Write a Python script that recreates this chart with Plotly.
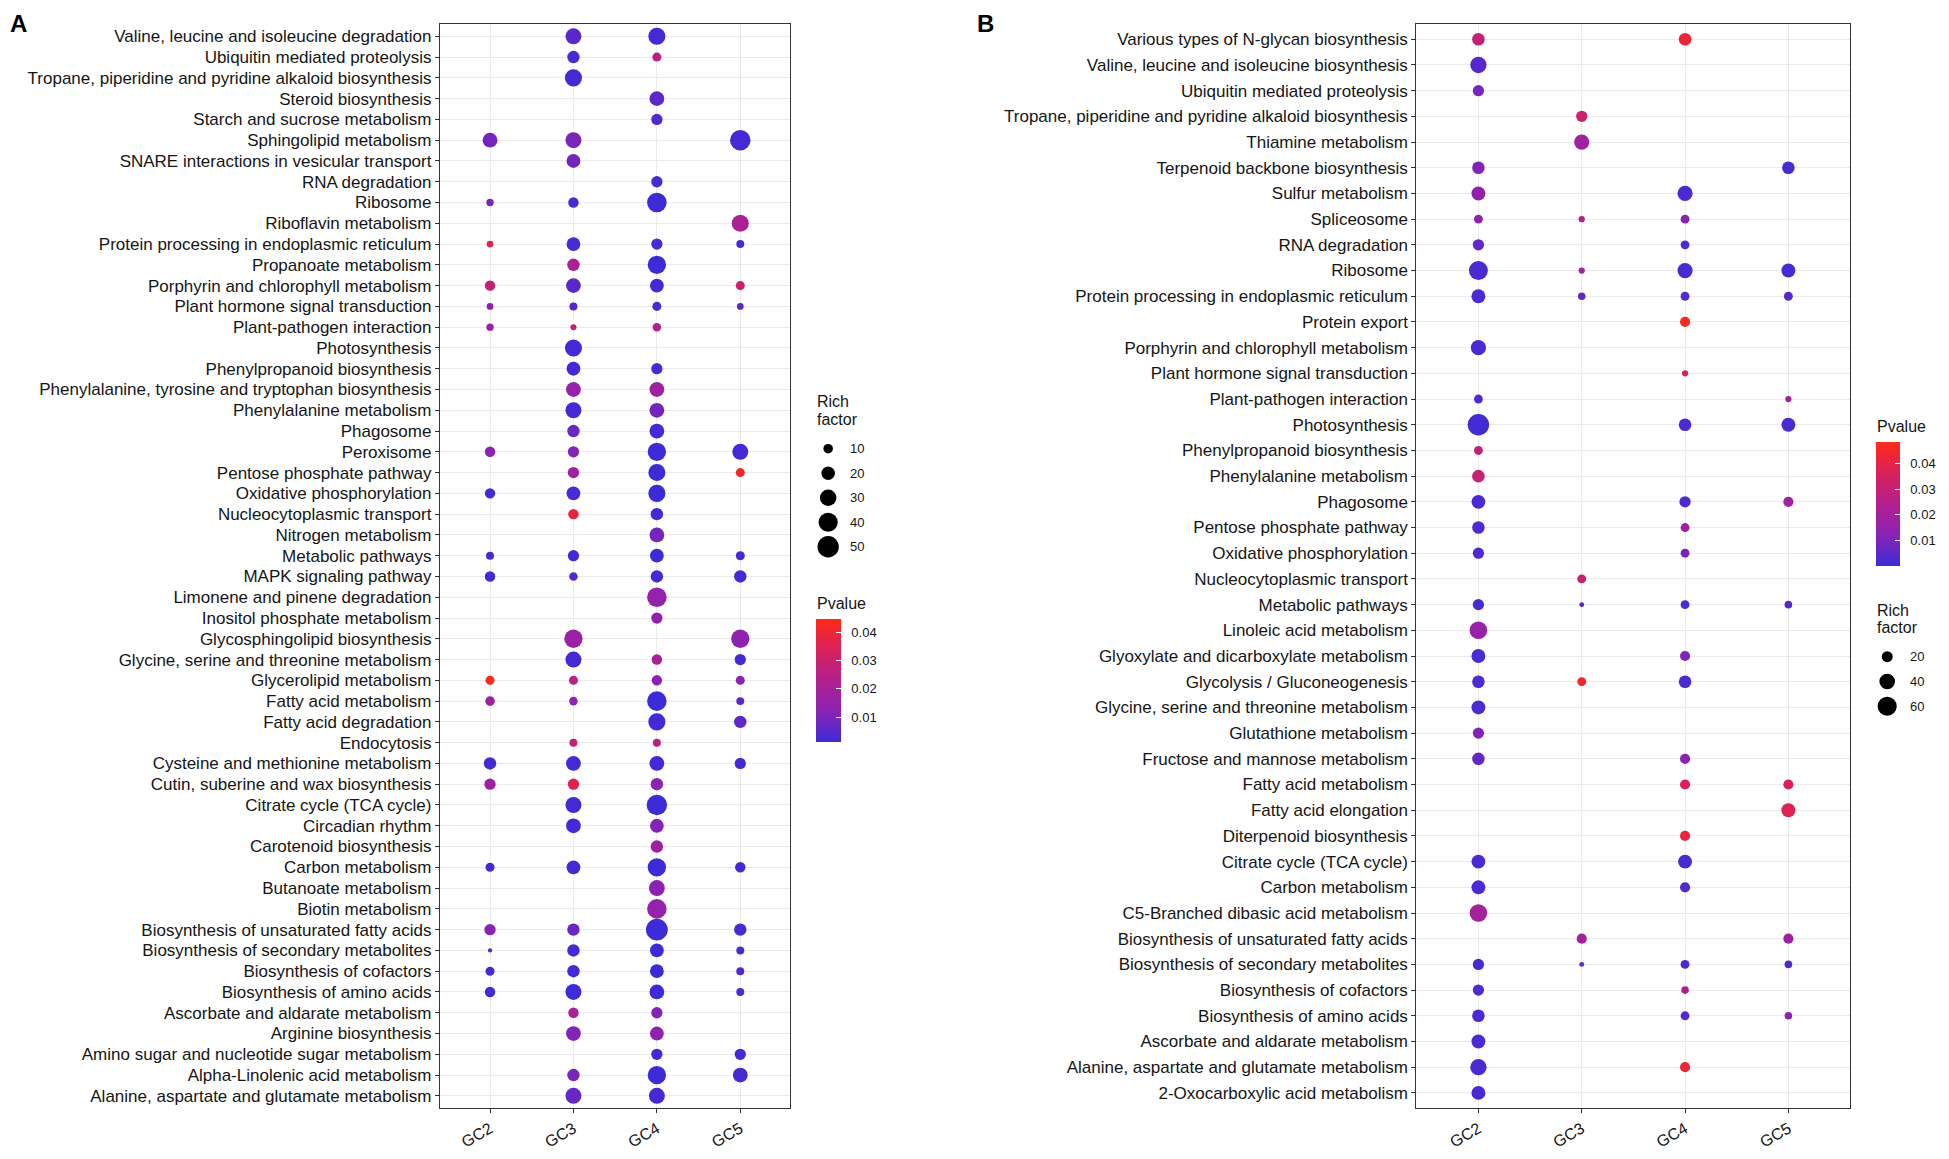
import plotly.graph_objects as go

# The page body adds an 8 px margin, so the figure is drawn 16 px smaller and
# every reference pixel position is shifted by that margin.
PAGE_W, PAGE_H = 1949, 1159
BODY_MARGIN = 8
W, H = PAGE_W - 2 * BODY_MARGIN, PAGE_H - 2 * BODY_MARGIN
FONT = "Liberation Sans, Arial, sans-serif"
GROUPS = ["GC2", "GC3", "GC4", "GC5"]

# ---------------- Panel A ----------------
A_categories = [
    "Valine, leucine and isoleucine degradation", "Ubiquitin mediated proteolysis",
    "Tropane, piperidine and pyridine alkaloid biosynthesis", "Steroid biosynthesis",
    "Starch and sucrose metabolism", "Sphingolipid metabolism",
    "SNARE interactions in vesicular transport", "RNA degradation", "Ribosome",
    "Riboflavin metabolism", "Protein processing in endoplasmic reticulum",
    "Propanoate metabolism", "Porphyrin and chlorophyll metabolism",
    "Plant hormone signal transduction", "Plant-pathogen interaction", "Photosynthesis",
    "Phenylpropanoid biosynthesis", "Phenylalanine, tyrosine and tryptophan biosynthesis",
    "Phenylalanine metabolism", "Phagosome", "Peroxisome", "Pentose phosphate pathway",
    "Oxidative phosphorylation", "Nucleocytoplasmic transport", "Nitrogen metabolism",
    "Metabolic pathways", "MAPK signaling pathway", "Limonene and pinene degradation",
    "Inositol phosphate metabolism", "Glycosphingolipid biosynthesis",
    "Glycine, serine and threonine metabolism", "Glycerolipid metabolism",
    "Fatty acid metabolism", "Fatty acid degradation", "Endocytosis",
    "Cysteine and methionine metabolism", "Cutin, suberine and wax biosynthesis",
    "Citrate cycle (TCA cycle)", "Circadian rhythm", "Carotenoid biosynthesis",
    "Carbon metabolism", "Butanoate metabolism", "Biotin metabolism",
    "Biosynthesis of unsaturated fatty acids", "Biosynthesis of secondary metabolites",
    "Biosynthesis of cofactors", "Biosynthesis of amino acids",
    "Ascorbate and aldarate metabolism", "Arginine biosynthesis",
    "Amino sugar and nucleotide sugar metabolism", "Alpha-Linolenic acid metabolism",
    "Alanine, aspartate and glutamate metabolism",
]

A_GC2_pathway = ["Sphingolipid metabolism", "Ribosome", "Protein processing in endoplasmic reticulum",
                 "Porphyrin and chlorophyll metabolism", "Plant hormone signal transduction",
                 "Plant-pathogen interaction", "Peroxisome", "Oxidative phosphorylation",
                 "Metabolic pathways", "MAPK signaling pathway", "Glycerolipid metabolism",
                 "Fatty acid metabolism", "Cysteine and methionine metabolism",
                 "Cutin, suberine and wax biosynthesis", "Carbon metabolism",
                 "Biosynthesis of unsaturated fatty acids", "Biosynthesis of secondary metabolites",
                 "Biosynthesis of cofactors", "Biosynthesis of amino acids"]
A_GC2_pvalue = [0.009, 0.009, 0.036, 0.028, 0.012, 0.017, 0.013, 0.002, 0.002, 0.002, 0.044,
                0.017, 0.002, 0.018, 0.002, 0.012, 0.004, 0.002, 0.002]
A_GC2_rich = [24, 6, 5, 12, 5, 6, 12, 12, 7, 12, 9, 10, 17, 14, 9, 14, 2, 9, 12]

A_GC3_pathway = ["Valine, leucine and isoleucine degradation", "Ubiquitin mediated proteolysis",
                 "Tropane, piperidine and pyridine alkaloid biosynthesis", "Sphingolipid metabolism",
                 "SNARE interactions in vesicular transport", "Ribosome",
                 "Protein processing in endoplasmic reticulum", "Propanoate metabolism",
                 "Porphyrin and chlorophyll metabolism", "Plant hormone signal transduction",
                 "Plant-pathogen interaction", "Photosynthesis", "Phenylpropanoid biosynthesis",
                 "Phenylalanine, tyrosine and tryptophan biosynthesis", "Phenylalanine metabolism",
                 "Phagosome", "Peroxisome", "Pentose phosphate pathway", "Oxidative phosphorylation",
                 "Nucleocytoplasmic transport", "Metabolic pathways", "MAPK signaling pathway",
                 "Glycosphingolipid biosynthesis", "Glycine, serine and threonine metabolism",
                 "Glycerolipid metabolism", "Fatty acid metabolism", "Endocytosis",
                 "Cysteine and methionine metabolism", "Cutin, suberine and wax biosynthesis",
                 "Citrate cycle (TCA cycle)", "Circadian rhythm", "Carbon metabolism",
                 "Biosynthesis of unsaturated fatty acids", "Biosynthesis of secondary metabolites",
                 "Biosynthesis of cofactors", "Biosynthesis of amino acids",
                 "Ascorbate and aldarate metabolism", "Arginine biosynthesis",
                 "Alpha-Linolenic acid metabolism", "Alanine, aspartate and glutamate metabolism"]
A_GC3_pvalue = [0.005, 0.003, 0.002, 0.010, 0.009, 0.003, 0.003, 0.021, 0.005, 0.005,
                0.028, 0.002, 0.002, 0.015, 0.002, 0.007, 0.011, 0.017, 0.003, 0.038,
                0.002, 0.004, 0.016, 0.002, 0.026, 0.013, 0.028, 0.002, 0.035, 0.002,
                0.002, 0.002, 0.008, 0.002, 0.002, 0.001, 0.020, 0.011, 0.010, 0.007]
A_GC3_rich = [28, 17, 32, 28, 21, 12, 21, 17, 24, 7, 4, 32, 21, 24, 28, 17, 14, 14, 21, 12,
              14, 8, 37, 28, 9, 8, 7, 24, 14, 28, 24, 21, 17, 17, 17, 28, 12, 24, 17, 28]

A_GC4_pathway = ["Valine, leucine and isoleucine degradation", "Ubiquitin mediated proteolysis",
                 "Steroid biosynthesis", "Starch and sucrose metabolism", "RNA degradation",
                 "Ribosome", "Protein processing in endoplasmic reticulum", "Propanoate metabolism",
                 "Porphyrin and chlorophyll metabolism", "Plant hormone signal transduction",
                 "Plant-pathogen interaction", "Phenylpropanoid biosynthesis",
                 "Phenylalanine, tyrosine and tryptophan biosynthesis", "Phenylalanine metabolism",
                 "Phagosome", "Peroxisome", "Pentose phosphate pathway", "Oxidative phosphorylation",
                 "Nucleocytoplasmic transport", "Nitrogen metabolism", "Metabolic pathways",
                 "MAPK signaling pathway", "Limonene and pinene degradation",
                 "Inositol phosphate metabolism", "Glycine, serine and threonine metabolism",
                 "Glycerolipid metabolism", "Fatty acid metabolism", "Fatty acid degradation",
                 "Endocytosis", "Cysteine and methionine metabolism",
                 "Cutin, suberine and wax biosynthesis", "Citrate cycle (TCA cycle)",
                 "Circadian rhythm", "Carotenoid biosynthesis", "Carbon metabolism",
                 "Butanoate metabolism", "Biotin metabolism",
                 "Biosynthesis of unsaturated fatty acids", "Biosynthesis of secondary metabolites",
                 "Biosynthesis of cofactors", "Biosynthesis of amino acids",
                 "Ascorbate and aldarate metabolism", "Arginine biosynthesis",
                 "Amino sugar and nucleotide sugar metabolism", "Alpha-Linolenic acid metabolism",
                 "Alanine, aspartate and glutamate metabolism"]
A_GC4_pvalue = [0.002, 0.025, 0.006, 0.004, 0.003, 0.001, 0.003, 0.001, 0.002, 0.003,
                0.022, 0.003, 0.018, 0.009, 0.002, 0.001, 0.001, 0.001, 0.002, 0.009,
                0.001, 0.002, 0.015, 0.014, 0.020, 0.012, 0.001, 0.002, 0.025, 0.002,
                0.012, 0.001, 0.011, 0.018, 0.001, 0.012, 0.015, 0.001, 0.001, 0.001,
                0.001, 0.011, 0.013, 0.002, 0.001, 0.002]
A_GC4_rich = [32, 9, 24, 14, 14, 42, 14, 37, 21, 9, 8, 14, 24, 24, 24, 37, 32, 32, 17, 24,
              21, 17, 42, 14, 12, 12, 42, 32, 7, 24, 17, 46, 21, 17, 37, 28, 42, 52, 21, 21,
              24, 14, 21, 14, 37, 28]

A_GC5_pathway = ["Sphingolipid metabolism", "Riboflavin metabolism",
                 "Protein processing in endoplasmic reticulum", "Porphyrin and chlorophyll metabolism",
                 "Plant hormone signal transduction", "Peroxisome", "Pentose phosphate pathway",
                 "Metabolic pathways", "MAPK signaling pathway", "Glycosphingolipid biosynthesis",
                 "Glycine, serine and threonine metabolism", "Glycerolipid metabolism",
                 "Fatty acid metabolism", "Fatty acid degradation",
                 "Cysteine and methionine metabolism", "Carbon metabolism",
                 "Biosynthesis of unsaturated fatty acids", "Biosynthesis of secondary metabolites",
                 "Biosynthesis of cofactors", "Biosynthesis of amino acids",
                 "Amino sugar and nucleotide sugar metabolism", "Alpha-Linolenic acid metabolism"]
A_GC5_pvalue = [0.002, 0.021, 0.003, 0.030, 0.005, 0.002, 0.041, 0.002, 0.002, 0.013, 0.002,
                0.012, 0.005, 0.006, 0.002, 0.002, 0.003, 0.003, 0.004, 0.003, 0.002, 0.002]
A_GC5_rich = [46, 32, 7, 9, 5, 28, 9, 9, 17, 37, 14, 9, 7, 17, 14, 12, 17, 7, 7, 7, 14, 24]

A_size_legend = [10, 20, 30, 40, 50]
A_p_range = [0.0012, 0.0446]

# ---------------- Panel B ----------------
B_categories = [
    "Various types of N-glycan biosynthesis", "Valine, leucine and isoleucine biosynthesis",
    "Ubiquitin mediated proteolysis", "Tropane, piperidine and pyridine alkaloid biosynthesis",
    "Thiamine metabolism", "Terpenoid backbone biosynthesis", "Sulfur metabolism",
    "Spliceosome", "RNA degradation", "Ribosome", "Protein processing in endoplasmic reticulum",
    "Protein export", "Porphyrin and chlorophyll metabolism", "Plant hormone signal transduction",
    "Plant-pathogen interaction", "Photosynthesis", "Phenylpropanoid biosynthesis",
    "Phenylalanine metabolism", "Phagosome", "Pentose phosphate pathway",
    "Oxidative phosphorylation", "Nucleocytoplasmic transport", "Metabolic pathways",
    "Linoleic acid metabolism", "Glyoxylate and dicarboxylate metabolism",
    "Glycolysis / Gluconeogenesis", "Glycine, serine and threonine metabolism",
    "Glutathione metabolism", "Fructose and mannose metabolism", "Fatty acid metabolism",
    "Fatty acid elongation", "Diterpenoid biosynthesis", "Citrate cycle (TCA cycle)",
    "Carbon metabolism", "C5-Branched dibasic acid metabolism",
    "Biosynthesis of unsaturated fatty acids", "Biosynthesis of secondary metabolites",
    "Biosynthesis of cofactors", "Biosynthesis of amino acids",
    "Ascorbate and aldarate metabolism", "Alanine, aspartate and glutamate metabolism",
    "2-Oxocarboxylic acid metabolism",
]

B_GC2_pathway = ["Various types of N-glycan biosynthesis", "Valine, leucine and isoleucine biosynthesis",
                 "Ubiquitin mediated proteolysis", "Terpenoid backbone biosynthesis",
                 "Sulfur metabolism", "Spliceosome", "RNA degradation", "Ribosome",
                 "Protein processing in endoplasmic reticulum", "Porphyrin and chlorophyll metabolism",
                 "Plant-pathogen interaction", "Photosynthesis", "Phenylpropanoid biosynthesis",
                 "Phenylalanine metabolism", "Phagosome", "Pentose phosphate pathway",
                 "Oxidative phosphorylation", "Metabolic pathways", "Linoleic acid metabolism",
                 "Glyoxylate and dicarboxylate metabolism", "Glycolysis / Gluconeogenesis",
                 "Glycine, serine and threonine metabolism", "Glutathione metabolism",
                 "Fructose and mannose metabolism", "Citrate cycle (TCA cycle)", "Carbon metabolism",
                 "C5-Branched dibasic acid metabolism", "Biosynthesis of secondary metabolites",
                 "Biosynthesis of cofactors", "Biosynthesis of amino acids",
                 "Ascorbate and aldarate metabolism", "Alanine, aspartate and glutamate metabolism",
                 "2-Oxocarboxylic acid metabolism"]
B_GC2_pvalue = [0.030, 0.004, 0.009, 0.011, 0.015, 0.014, 0.006, 0.002, 0.002, 0.002, 0.003,
                0.001, 0.029, 0.031, 0.002, 0.003, 0.003, 0.002, 0.016, 0.002, 0.002, 0.002,
                0.011, 0.006, 0.002, 0.002, 0.020, 0.002, 0.003, 0.002, 0.002, 0.002, 0.002]
B_GC2_rich = [26, 44, 21, 26, 32, 13, 21, 59, 32, 38, 13, 76, 13, 26, 32, 26, 21, 21, 51, 32,
              26, 32, 21, 26, 32, 32, 51, 21, 21, 26, 32, 44, 32]

B_GC3_pathway = ["Tropane, piperidine and pyridine alkaloid biosynthesis", "Thiamine metabolism",
                 "Spliceosome", "Ribosome", "Protein processing in endoplasmic reticulum",
                 "Nucleocytoplasmic transport", "Metabolic pathways", "Glycolysis / Gluconeogenesis",
                 "Biosynthesis of unsaturated fatty acids", "Biosynthesis of secondary metabolites"]
B_GC3_pvalue = [0.033, 0.018, 0.024, 0.019, 0.006, 0.031, 0.004, 0.045, 0.020, 0.005]
B_GC3_rich = [21, 38, 6.5, 6.5, 9.5, 13, 4, 13, 17, 4]

B_GC4_pathway = ["Various types of N-glycan biosynthesis", "Sulfur metabolism", "Spliceosome",
                 "RNA degradation", "Ribosome", "Protein processing in endoplasmic reticulum",
                 "Protein export", "Plant hormone signal transduction", "Photosynthesis",
                 "Phagosome", "Pentose phosphate pathway", "Oxidative phosphorylation",
                 "Metabolic pathways", "Glyoxylate and dicarboxylate metabolism",
                 "Glycolysis / Gluconeogenesis", "Fructose and mannose metabolism",
                 "Fatty acid metabolism", "Diterpenoid biosynthesis", "Citrate cycle (TCA cycle)",
                 "Carbon metabolism", "Biosynthesis of secondary metabolites",
                 "Biosynthesis of cofactors", "Biosynthesis of amino acids",
                 "Alanine, aspartate and glutamate metabolism"]
B_GC4_pvalue = [0.043, 0.002, 0.011, 0.003, 0.002, 0.003, 0.047, 0.037, 0.002, 0.003, 0.019,
                0.010, 0.002, 0.011, 0.002, 0.012, 0.037, 0.042, 0.002, 0.003, 0.003, 0.023,
                0.004, 0.043]
B_GC4_rich = [26, 38, 13, 13, 38, 13, 17, 6.5, 26, 21, 13, 13, 13, 17, 26, 17, 17, 17, 32, 17,
              13, 9.5, 13, 17]

B_GC5_pathway = ["Terpenoid backbone biosynthesis", "Ribosome",
                 "Protein processing in endoplasmic reticulum", "Plant-pathogen interaction",
                 "Photosynthesis", "Phagosome", "Metabolic pathways", "Fatty acid metabolism",
                 "Fatty acid elongation", "Biosynthesis of unsaturated fatty acids",
                 "Biosynthesis of secondary metabolites", "Biosynthesis of amino acids"]
B_GC5_pvalue = [0.002, 0.002, 0.004, 0.018, 0.002, 0.019, 0.003, 0.036, 0.038, 0.019, 0.003, 0.013]
B_GC5_rich = [26, 32, 13, 6.5, 32, 17, 9.5, 17, 32, 17, 9.5, 9.5]

B_size_legend = [20, 40, 60]
B_p_range = [0.0, 0.0487]

PVALUE_TICKS = [0.01, 0.02, 0.03, 0.04]

# gradient blue -> red interpolated through purples (as ggplot's Lab gradient does)
COLORSCALE = [[0.0, "#3D2BD8"], [0.25, "#8A23B4"], [0.5, "#B2208E"],
              [0.75, "#D9215C"], [1.0, "#FF2A17"]]


# ---------------- layout geometry (reference pixels) ----------------
def px_x(v):
    return (v - BODY_MARGIN) / W


def px_y(v):
    return 1 - (v - BODY_MARGIN) / H


PANEL_TOP, PANEL_BOTTOM = 24, 1119
A_LEFT, A_RIGHT = 442, 794
B_LEFT, B_RIGHT = 1423, 1859
A_SIZEREF = 0.22
B_SIZEREF = 0.33

TEXT = "#151515"
LINE = "#333333"
GRID = "#EBEBEB"
NBSP = "\u00a0"


def flatten(groups):
    xs, ys, ps, rs = [], [], [], []
    for g, (path, pv, rich) in zip(GROUPS, groups):
        xs += [g] * len(path)
        ys += path
        ps += pv
        rs += rich
    return xs, ys, ps, rs


A_x, A_y, A_p, A_r = flatten([(A_GC2_pathway, A_GC2_pvalue, A_GC2_rich),
                              (A_GC3_pathway, A_GC3_pvalue, A_GC3_rich),
                              (A_GC4_pathway, A_GC4_pvalue, A_GC4_rich),
                              (A_GC5_pathway, A_GC5_pvalue, A_GC5_rich)])
B_x, B_y, B_p, B_r = flatten([(B_GC2_pathway, B_GC2_pvalue, B_GC2_rich),
                              (B_GC3_pathway, B_GC3_pvalue, B_GC3_rich),
                              (B_GC4_pathway, B_GC4_pvalue, B_GC4_rich),
                              (B_GC5_pathway, B_GC5_pvalue, B_GC5_rich)])

fig = go.Figure()

fig.add_trace(go.Scatter(
    x=A_x, y=A_y, mode="markers", xaxis="x", yaxis="y",
    marker=dict(size=A_r, sizemode="area", sizeref=A_SIZEREF, color=A_p,
                coloraxis="coloraxis", line=dict(width=0), opacity=1),
    hovertemplate="%{y}<br>%{x}<br>Rich factor: %{marker.size}<br>P: %{marker.color}<extra></extra>",
))
fig.add_trace(go.Scatter(
    x=B_x, y=B_y, mode="markers", xaxis="x2", yaxis="y2",
    marker=dict(size=B_r, sizemode="area", sizeref=B_SIZEREF, color=B_p,
                coloraxis="coloraxis2", line=dict(width=0), opacity=1),
    hovertemplate="%{y}<br>%{x}<br>Rich factor: %{marker.size}<br>P: %{marker.color}<extra></extra>",
))

# size legends drawn on their own small axes with the same size scale
A_leg_labels = [str(v) for v in A_size_legend]
B_leg_labels = [str(v) for v in B_size_legend]
fig.add_trace(go.Scatter(
    x=[0] * len(A_size_legend), y=A_leg_labels, mode="markers", xaxis="x3", yaxis="y3",
    marker=dict(size=A_size_legend, sizemode="area", sizeref=A_SIZEREF, color="#000000",
                line=dict(width=0), opacity=1),
    cliponaxis=False, hoverinfo="skip",
))
fig.add_trace(go.Scatter(
    x=[0] * len(B_size_legend), y=B_leg_labels, mode="markers", xaxis="x4", yaxis="y4",
    marker=dict(size=B_size_legend, sizemode="area", sizeref=B_SIZEREF, color="#000000",
                line=dict(width=0), opacity=1),
    cliponaxis=False, hoverinfo="skip",
))


def xaxis(left, right):
    return dict(domain=[px_x(left), px_x(right)], type="category", categoryorder="array",
                categoryarray=GROUPS, range=[-0.6, len(GROUPS) - 0.4],
                tickmode="array", tickvals=GROUPS, ticktext=GROUPS,
                showline=True, mirror=True, linecolor=LINE, linewidth=1.3,
                ticks="outside", ticklen=4, tickwidth=1, tickcolor=LINE,
                showgrid=True, gridcolor=GRID, gridwidth=1, zeroline=False,
                tickangle=-30, tickfont=dict(family=FONT, size=16, color=TEXT),
                fixedrange=True)


def yaxis(cats, anchor):
    return dict(domain=[px_y(PANEL_BOTTOM), px_y(PANEL_TOP)], type="category",
                categoryorder="array", categoryarray=cats, anchor=anchor,
                range=[len(cats) - 0.4, -0.6],
                tickmode="array", tickvals=cats, ticktext=cats,
                showline=True, mirror=True, linecolor=LINE, linewidth=1.3,
                ticks="outside", ticklen=4, tickwidth=1, tickcolor=LINE,
                showgrid=True, gridcolor=GRID, gridwidth=1, zeroline=False,
                tickfont=dict(family=FONT, size=17, color=TEXT), fixedrange=True)


def legend_y(labels, top_center, step):
    n = len(labels)
    top = top_center - step / 2
    bottom = top + n * step
    return dict(domain=[px_y(bottom), px_y(top)], type="category", categoryorder="array",
                categoryarray=labels, range=[n - 0.5, -0.5], visible=False, fixedrange=True)


def legend_x(center):
    return dict(domain=[px_x(center - 20), px_x(center + 20)], range=[-1, 1],
                visible=False, fixedrange=True)


def colorbar(left, top, length, thick):
    return dict(x=px_x(left), xanchor="left", xpad=0, y=px_y(top), yanchor="top", ypad=0,
                lenmode="pixels", len=length, thickness=thick, thicknessmode="pixels",
                outlinewidth=0, ticks="inside", ticklen=5, tickwidth=1, tickcolor="white",
                tickvals=PVALUE_TICKS,
                ticktext=[NBSP * 2 + f"{v:.2f}" for v in PVALUE_TICKS],
                tickfont=dict(family=FONT, size=13, color=TEXT), title=dict(text=""))


fig.update_layout(
    width=W, height=H, margin=dict(l=0, r=0, t=0, b=0),
    paper_bgcolor="white", plot_bgcolor="white", showlegend=False,
    font=dict(family=FONT, color=TEXT),
    xaxis=xaxis(A_LEFT, A_RIGHT),
    yaxis=yaxis(A_categories, "x"),
    xaxis2=xaxis(B_LEFT, B_RIGHT),
    yaxis2=yaxis(B_categories, "x2"),
    xaxis3=legend_x(832), yaxis3=legend_y(A_leg_labels, 453, 24.75),
    xaxis4=legend_x(1896), yaxis4=legend_y(B_leg_labels, 663, 25),
    coloraxis=dict(colorscale=COLORSCALE, cmin=A_p_range[0], cmax=A_p_range[1],
                   colorbar=colorbar(820, 625, 123, 25)),
    coloraxis2=dict(colorscale=COLORSCALE, cmin=B_p_range[0], cmax=B_p_range[1],
                    colorbar=colorbar(1885, 446, 124, 24)),
)

annotations = []


def text(x, y, s, size, bold=False, yanchor="middle"):
    annotations.append(dict(
        x=px_x(x), y=px_y(y), xref="paper", yref="paper", text=f"<b>{s}</b>" if bold else s,
        showarrow=False, xanchor="left", yanchor=yanchor,
        font=dict(family=FONT, size=size, color="#000000" if bold else TEXT)))


# panel tags (top of their text box at the very top of the figure)
text(BODY_MARGIN, BODY_MARGIN, "A", 24, bold=True, yanchor="top")
text(980, BODY_MARGIN, "B", 24, bold=True, yanchor="top")
# legend titles
text(819, 405, "Rich", 16)
text(819, 423, "factor", 16)
text(819, 609, "Pvalue", 16)
text(1884, 431, "Pvalue", 16)
text(1884, 616, "Rich", 16)
text(1884, 634, "factor", 16)

# size legend labels, placed on the legend axes
for i, lab in enumerate(A_leg_labels):
    annotations.append(dict(x=px_x(852), xref="paper", y=i, yref="y3", text=lab,
                            showarrow=False, xanchor="left", yanchor="middle",
                            font=dict(family=FONT, size=13, color=TEXT)))
for i, lab in enumerate(B_leg_labels):
    annotations.append(dict(x=px_x(1917), xref="paper", y=i, yref="y4", text=lab,
                            showarrow=False, xanchor="left", yanchor="middle",
                            font=dict(family=FONT, size=13, color=TEXT)))

fig.update_layout(annotations=annotations)

fig.write_html("out.html")
